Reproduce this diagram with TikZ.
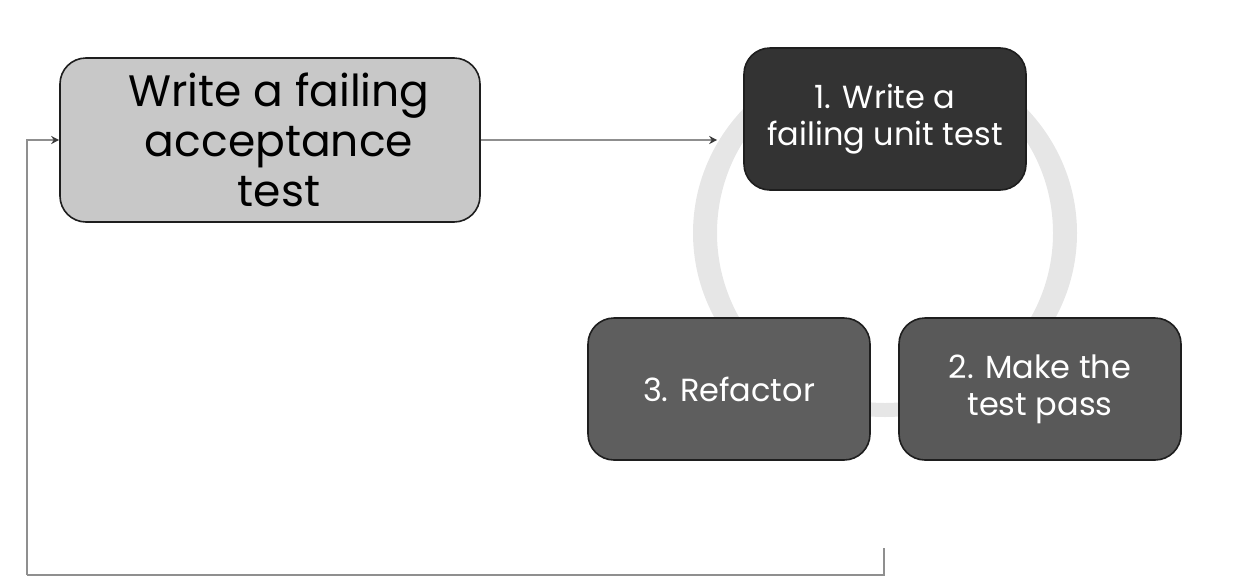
\documentclass[tikz,border=0pt]{standalone}
\usepackage{fontspec}
\setmainfont{Poppins}
\usetikzlibrary{arrows.meta}

\definecolor{accfill}{HTML}{C8C8C8}
\definecolor{stepone}{HTML}{333333}
\definecolor{steptwo}{HTML}{595959}
\definecolor{stepthree}{HTML}{5E5E5E}
\definecolor{ringgray}{HTML}{E6E6E6}
\definecolor{edgegray}{HTML}{1E1E1E}
\definecolor{linkgray}{HTML}{8F8F8F}
\definecolor{tipgray}{HTML}{3A3A3A}

\tikzset{
  card/.style={draw=edgegray, line width=1.6pt, rounded corners=26pt,
    align=center, inner sep=0pt},
  cyclecard/.style={card, minimum width=282pt, minimum height=142pt,
    text=white, font=\fontsize{32}{37}\selectfont},
  conn/.style={draw=linkgray, line width=2.2pt,
    -{Stealth[length=8pt,width=8pt,color=tipgray]}},
  loopline/.style={draw=linkgray, line width=2.2pt}
}

\begin{document}
\begin{tikzpicture}[x=1pt, y=-1pt]
  \useasboundingbox (0,0) rectangle (1252,584);

  % background ring of the unit-test cycle
  \fill[ringgray, even odd rule]
    (885,233) ellipse [x radius=192pt, y radius=184pt]
    (885,233) ellipse [x radius=168pt, y radius=170pt];

  % outer loop entry point
  \node[card, fill=accfill, minimum width=420pt, minimum height=164pt,
        font=\fontsize{44}{50}\selectfont, text=black]
    (acc) at (270,140) {\hspace*{18pt}Write a failing\\\hspace*{18pt}acceptance\\\hspace*{18pt}test};

  % the three steps of the inner cycle
  \node[cyclecard, fill=stepone]   (u1) at (885,119) {1. Write a\\failing unit test};
  \node[cyclecard, fill=stepthree] (u3) at (729,389) {3. Refactor};
  \node[cyclecard, fill=steptwo]   (u2) at (1040,389) {2. Make the\\test pass};

  % acceptance test feeds the unit-test cycle
  \draw[conn, shorten >=26pt] (acc.east) -- (acc.east -| u1.west);

  % return path back to the acceptance test
  \coordinate (loopstart) at (884,548);
  \coordinate (loopcorner) at (27,575);
  \draw[loopline] (loopstart) |- (loopcorner);
  \draw[conn] (loopcorner) |- (acc.west);
\end{tikzpicture}
\end{document}
